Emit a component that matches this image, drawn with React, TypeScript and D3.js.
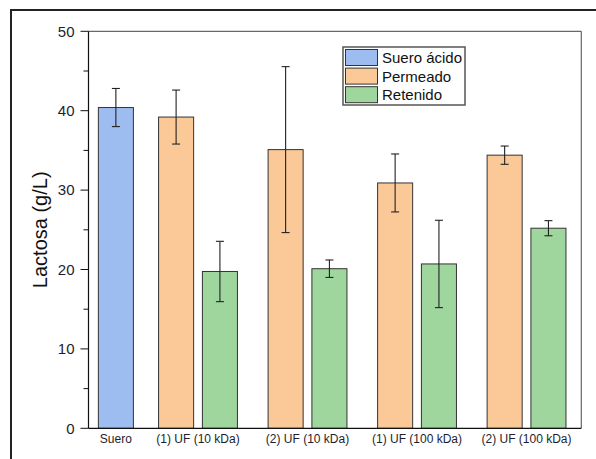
import React from "react";
import * as d3 from "d3";

const categories = ["Suero", "(1) UF (10 kDa)", "(2) UF (10 kDa)", "(1) UF (100 kDa)", "(2) UF (100 kDa)"];
const sueroValues = [40.4];
const sueroErrors = [2.4];
const permeadoValues = [39.2, 35.1, 30.9, 34.4];
const permeadoErrors = [3.4, 10.45, 3.65, 1.15];
const retenidoValues = [19.75, 20.1, 20.7, 25.2];
const retenidoErrors = [3.8, 1.1, 5.5, 0.95];
const yTicks = [0, 10, 20, 30, 40, 50];
const yMinorTicks = [5, 15, 25, 35, 45];
const seriesNames = ["Suero ácido", "Permeado", "Retenido"];
const seriesColors = ["#9dbcf0", "#fbc898", "#9fd69d"];

const W = 596;
const H = 459;
const left = 88.5;
const right = 581.3;
const top = 31.3;
const bottom = 428.3;

export default function App() {
  const y = d3.scaleLinear().domain([0, 50]).range([bottom, top]);
  const x = d3.scaleLinear().domain([0, 4.5]).range([left, right]);
  const barW = x(0.32) - x(0);
  const font = "Arial, 'Liberation Sans', sans-serif";

  // category positions: Suero at 0.25, then groups at 1..4
  const catPos = categories.map((_, i) => (i === 0 ? 0.25 : i));

  type Bar = { cx: number; v: number; e: number; color: string };
  const bars: Bar[] = [];
  sueroValues.forEach((v, i) => bars.push({ cx: x(catPos[0]), v, e: sueroErrors[i], color: seriesColors[0] }));
  permeadoValues.forEach((v, i) => bars.push({ cx: x(catPos[i + 1] - 0.2), v, e: permeadoErrors[i], color: seriesColors[1] }));
  retenidoValues.forEach((v, i) => bars.push({ cx: x(catPos[i + 1] + 0.2), v, e: retenidoErrors[i], color: seriesColors[2] }));

  const cap = 4;

  return (
    <svg width={W} height={H} style={{ position: "absolute", left: 0, top: 0, display: "block" }} fontFamily={font}>
      <rect x={0} y={0} width={W} height={H} fill="#fff" />
      {/* outer frame */}
      <rect x={11} y={10} width={W + 20} height={H + 20} fill="none" stroke="#222" strokeWidth={2} />
      {/* plot frame top / right */}
      <line x1={left} x2={right} y1={top} y2={top} stroke="#444" strokeWidth={1} />
      <line x1={right} x2={right} y1={top} y2={bottom} stroke="#666" strokeWidth={1.2} />

      {/* bars */}
      {bars.map((b, i) => (
        <rect key={i} x={b.cx - barW / 2} y={y(b.v)} width={barW} height={y(0) - y(b.v)} fill={b.color} stroke="#333" strokeWidth={1} />
      ))}
      {/* error bars */}
      {bars.map((b, i) => (
        <g key={"e" + i} stroke="#222" strokeWidth={1.1}>
          <line x1={b.cx} x2={b.cx} y1={y(b.v + b.e)} y2={y(b.v - b.e)} />
          <line x1={b.cx - cap} x2={b.cx + cap} y1={y(b.v + b.e)} y2={y(b.v + b.e)} />
          <line x1={b.cx - cap} x2={b.cx + cap} y1={y(b.v - b.e)} y2={y(b.v - b.e)} />
        </g>
      ))}

      {/* axes */}
      <line x1={left} x2={left} y1={top} y2={bottom} stroke="#111" strokeWidth={1.2} />
      <line x1={left} x2={right} y1={bottom} y2={bottom} stroke="#111" strokeWidth={1.2} />
      {yTicks.map((t) => (
        <g key={t}>
          <line x1={left - 8} x2={left} y1={y(t)} y2={y(t)} stroke="#111" strokeWidth={1} />
          <text x={left - 14} y={y(t) + 5.3} textAnchor="end" fontSize={15} fill="#1e1e2e">
            {t}
          </text>
        </g>
      ))}
      {yMinorTicks.map((t) => (
        <line key={t} x1={left - 5} x2={left} y1={y(t)} y2={y(t)} stroke="#111" strokeWidth={1} />
      ))}
      {categories.map((c, i) => (
        <text key={c} x={x(catPos[i])} y={443} textAnchor="middle" fontSize={12} fill="#1e1e2e">
          {c}
        </text>
      ))}
      <text transform={`translate(47,${(top + bottom) / 2}) rotate(-90)`} textAnchor="middle" fontSize={20} fill="#111">
        Lactosa (g/L)
      </text>

      {/* legend */}
      <rect x={343} y={47} width={122} height={58} fill="#fff" stroke="#555" strokeWidth={1.5} />
      {seriesNames.map((n, i) => (
        <g key={n}>
          <rect x={345.5} y={49.5 + i * 18.6} width={32} height={16} fill={seriesColors[i]} stroke="#333" strokeWidth={1} />
          <text x={382} y={63 + i * 18.6} fontSize={15} fill="#111">
            {n}
          </text>
        </g>
      ))}
    </svg>
  );
}
